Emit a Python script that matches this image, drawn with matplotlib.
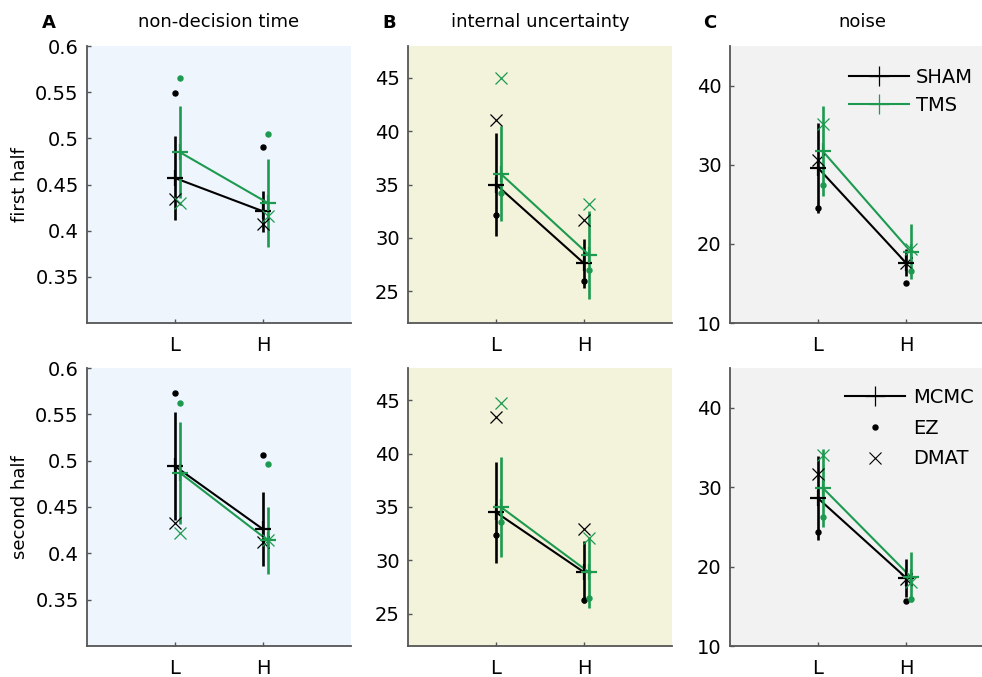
import matplotlib
matplotlib.use('Agg')
import matplotlib.pyplot as plt
from matplotlib.lines import Line2D

plt.rcParams['font.family'] = ['DejaVu Sans']
FS = 13
FS_TICK = 14

# ---------------- data ----------------
conditions = ['L', 'H']
x_pos = [1, 2]

# non-decision time, first half
nd1_sham_mcmc = [0.457, 0.421]
nd1_sham_err = [0.045, 0.022]
nd1_sham_ez = [0.549, 0.491]
nd1_sham_dmat = [0.434, 0.407]
nd1_tms_mcmc = [0.485, 0.430]
nd1_tms_err = [0.050, 0.048]
nd1_tms_ez = [0.565, 0.505]
nd1_tms_dmat = [0.430, 0.416]
# non-decision time, second half
nd2_sham_mcmc = [0.494, 0.426]
nd2_sham_err = [0.058, 0.040]
nd2_sham_ez = [0.573, 0.506]
nd2_sham_dmat = [0.433, 0.412]
nd2_tms_mcmc = [0.487, 0.414]
nd2_tms_err = [0.055, 0.036]
nd2_tms_ez = [0.562, 0.496]
nd2_tms_dmat = [0.422, 0.414]

# internal uncertainty, first half
iu1_sham_mcmc = [35.0, 27.6]
iu1_sham_err = [4.8, 2.3]
iu1_sham_ez = [32.1, 25.9]
iu1_sham_dmat = [41.1, 31.7]
iu1_tms_mcmc = [36.0, 28.4]
iu1_tms_err = [4.45, 4.15]
iu1_tms_ez = [34.2, 27.0]
iu1_tms_dmat = [45.0, 33.2]
# internal uncertainty, second half
iu2_sham_mcmc = [34.5, 28.9]
iu2_sham_err = [4.7, 2.9]
iu2_sham_ez = [32.4, 26.3]
iu2_sham_dmat = [43.4, 32.9]
iu2_tms_mcmc = [35.0, 28.9]
iu2_tms_err = [4.7, 3.3]
iu2_tms_ez = [33.6, 26.5]
iu2_tms_dmat = [44.7, 32.1]

# noise, first half
no1_sham_mcmc = [29.6, 17.6]
no1_sham_err = [5.7, 1.7]
no1_sham_ez = [24.5, 15.1]
no1_sham_dmat = [30.6, 17.6]
no1_tms_mcmc = [31.7, 19.0]
no1_tms_err = [5.7, 3.5]
no1_tms_ez = [27.4, 16.6]
no1_tms_dmat = [35.1, 19.3]
# noise, second half
no2_sham_mcmc = [28.6, 18.6]
no2_sham_err = [5.3, 2.4]
no2_sham_ez = [24.4, 15.7]
no2_sham_dmat = [31.6, 18.4]
no2_tms_mcmc = [29.9, 18.7]
no2_tms_err = [4.9, 3.1]
no2_tms_ez = [26.2, 15.9]
no2_tms_dmat = [34.0, 18.0]

titles = ['non-decision time', 'internal uncertainty', 'noise']
panel_letters = ['A', 'B', 'C']
row_labels = ['first half', 'second half']
nd_ticks = [0.35, 0.4, 0.45, 0.5, 0.55, 0.6]
nd_ticklabels = ['0.35', '0.4', '0.45', '0.5', '0.55', '0.6']
iu_ticks = [25, 30, 35, 40, 45]
no_ticks = [10, 20, 30, 40]
cond_legend = ['SHAM', 'TMS']
method_legend = ['MCMC', 'EZ', 'DMAT']

# ---------------- styling ----------------
BLACK = '#000000'
GREEN = '#1d9a50'
BG = ['#eef5fd', '#f3f2db', '#f2f2f2']
SPINE = '#555555'
OFFSET = 0.055

W, H = 982, 677
fig = plt.figure(figsize=(W / 100, H / 100), dpi=100)


def ax_at(left, top, width, height):
    return fig.add_axes([left / W, 1 - (top + height) / H, width / W, height / H])


col_left = [87, 408, 730]
col_w = 264
row_top = [46, 368]
row_h = [277, 278]

panels = [
    [  # first half
        dict(sham=(nd1_sham_mcmc, nd1_sham_err, nd1_sham_ez, nd1_sham_dmat),
             tms=(nd1_tms_mcmc, nd1_tms_err, nd1_tms_ez, nd1_tms_dmat),
             ylim=(0.3, 0.6), ticks=nd_ticks, tl=nd_ticklabels),
        dict(sham=(iu1_sham_mcmc, iu1_sham_err, iu1_sham_ez, iu1_sham_dmat),
             tms=(iu1_tms_mcmc, iu1_tms_err, iu1_tms_ez, iu1_tms_dmat),
             ylim=(22, 48), ticks=iu_ticks, tl=[str(t) for t in iu_ticks]),
        dict(sham=(no1_sham_mcmc, no1_sham_err, no1_sham_ez, no1_sham_dmat),
             tms=(no1_tms_mcmc, no1_tms_err, no1_tms_ez, no1_tms_dmat),
             ylim=(10, 45), ticks=no_ticks, tl=[str(t) for t in no_ticks]),
    ],
    [  # second half
        dict(sham=(nd2_sham_mcmc, nd2_sham_err, nd2_sham_ez, nd2_sham_dmat),
             tms=(nd2_tms_mcmc, nd2_tms_err, nd2_tms_ez, nd2_tms_dmat),
             ylim=(0.3, 0.6), ticks=nd_ticks, tl=nd_ticklabels),
        dict(sham=(iu2_sham_mcmc, iu2_sham_err, iu2_sham_ez, iu2_sham_dmat),
             tms=(iu2_tms_mcmc, iu2_tms_err, iu2_tms_ez, iu2_tms_dmat),
             ylim=(22, 48), ticks=iu_ticks, tl=[str(t) for t in iu_ticks]),
        dict(sham=(no2_sham_mcmc, no2_sham_err, no2_sham_ez, no2_sham_dmat),
             tms=(no2_tms_mcmc, no2_tms_err, no2_tms_ez, no2_tms_dmat),
             ylim=(10, 45), ticks=no_ticks, tl=[str(t) for t in no_ticks]),
    ],
]

for r in range(2):
    for c in range(3):
        p = panels[r][c]
        ax = ax_at(col_left[c], row_top[r], col_w, row_h[r])
        ax.set_facecolor(BG[c])
        for s in ['top', 'right']:
            ax.spines[s].set_visible(False)
        for s in ['left', 'bottom']:
            ax.spines[s].set_color(SPINE)
            ax.spines[s].set_linewidth(1.3)
        ax.set_xlim(0, 3)
        ax.set_ylim(*p['ylim'])
        ax.set_xticks(x_pos)
        ax.set_xticklabels(conditions)
        ax.set_yticks(p['ticks'])
        ax.set_yticklabels(p['tl'])
        ax.tick_params(axis='both', direction='in', length=3, width=1,
                       color=SPINE, labelsize=FS_TICK, labelcolor='black')
        ax.tick_params(axis='x', pad=9)
        ax.tick_params(axis='y', pad=6)

        for key, col, off in (('sham', BLACK, 0.0), ('tms', GREEN, OFFSET)):
            mcmc, err, ez, dmat = p[key]
            xs = [x + off for x in x_pos]
            ax.plot(xs, mcmc, color=col, lw=1.5, zorder=3)
            ax.errorbar(xs, mcmc, yerr=err, fmt='none', ecolor=col,
                        elinewidth=1.9, capsize=0, zorder=3)
            ax.plot(xs, mcmc, ls='none', marker='+', ms=12, mew=1.6,
                    color=col, zorder=4)
            ax.plot(xs, ez, ls='none', marker='o', ms=3.6, color=col,
                    zorder=4)
            ax.plot(xs, dmat, ls='none', marker='x', ms=9, mew=0.9,
                    color=col, zorder=4)

        if r == 0 and c == 2:
            handles = [Line2D([], [], color=BLACK, lw=1.5, marker='+', ms=14, mew=0.9),
                       Line2D([], [], color=GREEN, lw=1.5, marker='+', ms=14, mew=0.9)]
            ax.legend(handles, cond_legend, loc='upper left',
                      bbox_to_anchor=(849 / W, 1 - 68 / H),
                      bbox_transform=fig.transFigure, frameon=False,
                      fontsize=FS_TICK, handlelength=3.1, handletextpad=0.35,
                      labelspacing=0.47, borderpad=0, borderaxespad=0)
        if r == 1 and c == 2:
            handles = [Line2D([], [], color=BLACK, lw=1.5, marker='+', ms=14, mew=0.9),
                       Line2D([], [], color=BLACK, ls='none', marker='o', ms=3.6),
                       Line2D([], [], color=BLACK, ls='none', marker='x', ms=9, mew=0.8)]
            ax.legend(handles, method_legend, loc='upper left',
                      bbox_to_anchor=(845 / W, 1 - 388 / H),
                      bbox_transform=fig.transFigure, frameon=False,
                      fontsize=FS_TICK, handlelength=3.1, handletextpad=0.4,
                      labelspacing=0.6, borderpad=0, borderaxespad=0)

# titles, panel letters and row labels
for c in range(3):
    cx = col_left[c] + col_w / 2
    fig.text(cx / W, 1 - 27 / H, titles[c], ha='center', va='baseline',
             fontsize=FS)
letter_x = [42, 382, 703]
for c in range(3):
    fig.text(letter_x[c] / W, 1 - 28 / H, panel_letters[c], ha='left',
             va='baseline', fontsize=FS, fontweight='bold')
for r in range(2):
    cy = row_top[r] + row_h[r] / 2
    fig.text(20 / W, 1 - cy / H, row_labels[r], rotation=90, ha='center',
             va='center', fontsize=FS)

fig.savefig('out.png', dpi=100)
